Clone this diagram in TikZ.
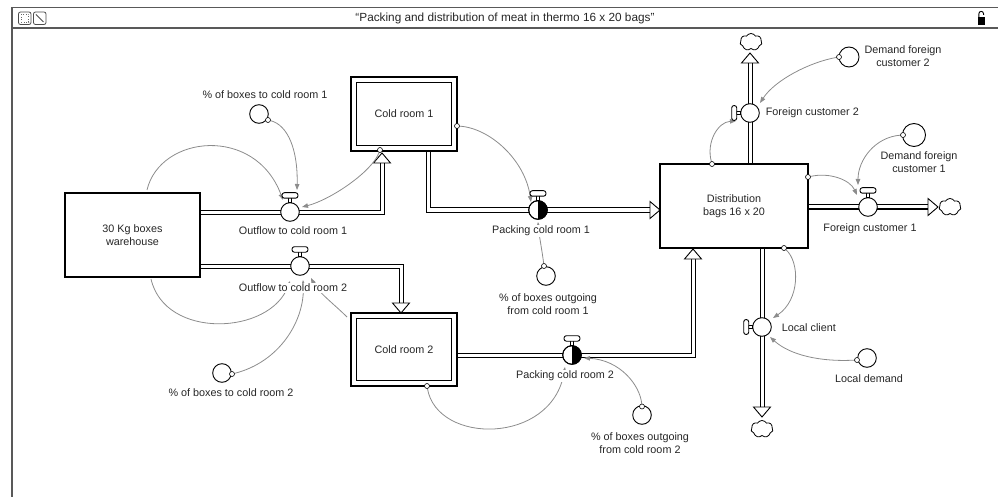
\documentclass[tikz,border=0pt]{standalone}
\usepackage{fontspec}
\setmainfont{Liberation Sans}
\usetikzlibrary{calc,shapes.symbols,arrows.meta,backgrounds}

\tikzset{
  lbl/.style={font=\fontsize{10.8}{12.8}\selectfont, text=black!85, align=center, inner sep=0.6pt, fill=white},
  stock/.style={draw, line width=1.1pt, fill=white, inner sep=0pt, outer sep=0pt,
    font=\fontsize{10.8}{12.8}\selectfont, text=black!85, align=center},
  valve/.style={circle, draw, line width=0.9pt, fill=white, minimum size=18.6pt, inner sep=0pt, outer sep=0pt},
  aux/.style={circle, draw, line width=0.9pt, fill=white, minimum size=18.6pt, inner sep=0pt, outer sep=0pt},
  port/.style={circle, draw, line width=0.6pt, fill=white, minimum size=5pt, inner sep=0pt, outer sep=0pt},
  sink/.style={cloud, cloud puffs=7, cloud puff arc=120, aspect=1.3, draw, line width=0.8pt, fill=white,
    minimum width=22pt, minimum height=17pt, inner sep=0pt},
  pipe/.style={draw=white, line width=3pt, preaction={draw=black, line width=5pt}},
  link/.style={draw=black!45, line width=0.8pt, -{Triangle[length=6pt, width=4.5pt]}},
  handle/.style={draw, line width=0.9pt, fill=white, rounded corners=2.4pt},
  stem/.style={draw, line width=0.7pt, fill=white},
  flowtip/.style={draw, line width=0.9pt, fill=white, line join=miter},
  frameline/.style={draw=black!65, line width=1.2pt},
  iconline/.style={draw=black!70, line width=0.8pt},
}

% valve handle above a horizontal flow
\newcommand\handletop[1]{%
  \draw[stem] ([xshift=-1.5pt]#1.north) rectangle ([xshift=1.5pt,yshift=5pt]#1.north);
  \draw[handle] ([xshift=-8pt,yshift=4.5pt]#1.north) rectangle ([xshift=8pt,yshift=10pt]#1.north);}
% valve handle left of a vertical flow
\newcommand\handleleft[1]{%
  \draw[stem] ([yshift=-1.5pt]#1.west) rectangle ([xshift=-4.5pt,yshift=1.5pt]#1.west);
  \draw[handle] ([xshift=-4pt,yshift=-7.5pt]#1.west) rectangle ([xshift=-9pt,yshift=7.5pt]#1.west);}
% right half of a packing valve in black
\newcommand\halfblack[1]{%
  \begin{scope}
    \clip (#1.center) circle[radius=9.3pt];
    \fill (#1.north) rectangle ([xshift=10pt]#1.south);
  \end{scope}
  \draw[line width=0.9pt] (#1.center) circle[radius=9.3pt];}
% open arrow head of a flow pipe: tip coordinate, direction
\newcommand\flowhead[2]{%
  \path[flowtip, shift={(#1)}, rotate=#2] (0,0) -- (-10,8.5) -- (-10,-8.5) -- cycle;}

\begin{document}
\begin{tikzpicture}[x=1pt, y=-1pt]
\useasboundingbox (0,0) rectangle (998,497);

% ---- window frame and title bar
\draw[frameline] (12,497) -- (12,7.5) -- (998,7.5);
\draw[frameline] (12,28) -- (998,28);
\draw[iconline, rounded corners=2pt] (18.5,12) rectangle (31,24.5);
\draw[black!60, line width=0.5pt, dotted] (21,14.5) rectangle (28.5,22);
\draw[iconline, rounded corners=2pt] (33.5,12) rectangle (46,24.5);
\draw[iconline] (36,14.5) -- (43.5,22);
\fill (977.5,17.5) rectangle (985,25.5);
\draw[line width=0.9pt] (978.8,17.5) -- (978.8,14) .. controls (978.8,10.5) and (983.6,10.5) .. (983.6,14) -- (983.6,15);
\node[font=\fontsize{11.8}{14}\selectfont, text=black!85] (title) at (505,18)
  {“Packing and distribution of meat in thermo 16 x 20 bags”};

% ---- stocks
\node[stock, minimum width=135pt, minimum height=84pt] (wh) at (132.5,235) {30 Kg boxes\\warehouse};
\node[stock, minimum width=106pt, minimum height=74pt] (cr1) at (404,114) {Cold room 1};
\draw[line width=1.1pt] ([shift={(5.5,5.5)}]cr1.north west) rectangle ([shift={(-5.5,-5.5)}]cr1.south east);
\node[stock, minimum width=106pt, minimum height=73pt] (cr2) at (404,349.5) {Cold room 2};
\draw[line width=1.1pt] ([shift={(5.5,5.5)}]cr2.north west) rectangle ([shift={(-5.5,-5.5)}]cr2.south east);
\node[stock, minimum width=148pt, minimum height=84pt] (dist) at (734,206) {Distribution\\bags 16 x 20};

% ---- flows (valves)
\node[valve] (v1) at (290,212) {};
\handletop{v1}
\node[valve] (v2) at (300,266) {};
\handletop{v2}
\node[valve] (p1) at (538,210) {};
\halfblack{p1}
\handletop{p1}
\node[valve] (p2) at (572,355) {};
\halfblack{p2}
\handletop{p2}
\node[valve] (f2) at (750,113) {};
\handleleft{f2}
\node[valve] (f1) at (868,207) {};
\handletop{f1}
\node[valve] (lc) at (762,327) {};
\handleleft{lc}

% ---- sinks
\node[sink] (sk2) at (751,42) {};
\node[sink] (sk1) at (950,207) {};
\node[sink] (skl) at (762,429) {};

% ---- auxiliaries
\node[aux] (a1) at (259,114) {};
\node[aux] (a2) at (222,373) {};
\node[aux] (ao1) at (546,276) {};
\node[aux] (ao2) at (642,415) {};
\node[aux, minimum size=20pt] (adf2) at (849,57) {};
\node[aux, minimum size=23pt] (adf1) at (914,135) {};
\node[aux] (ald) at (867,358) {};

% ---- link origins
\node[port] (pa1) at (268,120) {};
\node[port] (pa2) at (232,374) {};
\node[port] (pcr1a) at (380,150) {};
\node[port] (pcr1b) at (457,126) {};
\node[port] (pcr2) at (427,386) {};
\node[port] (po1) at (544,266) {};
\node[port] (po2) at (642,406.5) {};
\node[port] (pd1) at (712,164) {};
\node[port] (pd2) at (808,177) {};
\node[port] (pd3) at (784,248) {};
\node[port] (pdf2) at (839,57) {};
\node[port] (pdf1) at (903,135) {};
\node[port] (pld) at (857,360) {};

% ---- pipe end points
\coordinate (in1) at ($(cr1.south)+(-22,2)$);
\coordinate (in2) at ($(cr2.north)+(-3,0)$);
\coordinate (in3) at (dist.west |- p1.center);
\coordinate (in4) at ($(dist.south)+(-41,1)$);
\coordinate (c1out) at ($(cr1.south)+(24,0)$);
\coordinate (c1bend) at (c1out |- p1.center);
\coordinate (out2) at (750,53);
\coordinate (out1) at (938,207);
\coordinate (outl) at (762,417);

\begin{scope}[on background layer]
  % pipes
  \draw[pipe] (wh.east |- v1.center) -- (v1.center) -- (v1.center -| in1) -- ($(in1)+(0,10)$);
  \flowhead{in1}{90}
  \draw[pipe] (wh.east |- v2.center) -- (v2.center) -- (v2.center -| in2) -- ($(in2)+(0,-10)$);
  \flowhead{in2}{-90}
  \draw[pipe] (c1out) -- (c1bend) -- (p1.center) -- ($(in3)+(-10,0)$);
  \flowhead{in3}{0}
  \draw[pipe] (cr2.east |- p2.center) -- (p2.center) -- (p2.center -| in4) -- ($(in4)+(0,10)$);
  \flowhead{in4}{90}
  \draw[pipe] (f2.center |- dist.north) -- (f2.center) -- ($(out2)+(0,10)$);
  \flowhead{out2}{90}
  \draw[pipe] (dist.east |- f1.center) -- (f1.center) -- ($(out1)+(-10,0)$);
  \flowhead{out1}{0}
  \draw[pipe] (lc.center |- dist.south) -- (lc.center) -- ($(outl)+(0,-10)$);
  \flowhead{outl}{-90}

  % information links
  \draw[link] ($(wh.north)+(14.5,-3)$) .. controls (160,135) and (255,125) .. ($(v1)+(-7,-12)$);
  \draw[link] (pa1) .. controls (288,125) and (298,150) .. ($(v1)+(7,-22)$);
  \draw[link] (pcr1a) .. controls (372,172) and (330,200) .. ($(v1)+(12,-5)$);
  \draw[link] ($(wh.south)+(18.5,2)$) .. controls (165,340) and (270,335) .. ($(v2)+(-10,15)$);
  \draw[link] (pa2) .. controls (280,362) and (305,320) .. ($(v2)+(3,14)$);
  \draw[link] ($(cr2.north west)+(-4,4)$) .. controls (335,305) and (318,292) .. ($(v2)+(11,12)$);
  \draw[link] (pcr1b) .. controls (490,128) and (525,160) .. ($(p1)+(-7,-8)$);
  \draw[link] (po1) .. controls (542,250) and (539,235) .. ($(p1)+(0,12)$);
  \draw[link] (pcr2) .. controls (437,445) and (552,445) .. ($(p2)+(-7,12)$);
  \draw[link] (po2) .. controls (640,385) and (620,360) .. ($(p2)+(12,3)$);
  \draw[link] (pd1) .. controls (706,142) and (718,122) .. ($(f2)+(-14,8)$);
  \draw[link] (pdf2) .. controls (810,62) and (775,80) .. ($(f2)+(10,-10)$);
  \draw[link] (pd2) .. controls (830,172) and (850,180) .. ($(f1)+(-11,-12)$);
  \draw[link] (pdf1) .. controls (875,137) and (858,160) .. ($(f1)+(-10,-22)$);
  \draw[link] (pd3) .. controls (800,262) and (800,300) .. ($(lc)+(11,-9)$);
  \draw[link] (pld) .. controls (820,362) and (790,355) .. ($(lc)+(8,10)$);
\end{scope}

% ---- labels
\node[lbl] (t-a1) at (265,95) {\% of boxes to cold room 1};
\node[lbl] (t-v1) at (293,231) {Outflow to cold room 1};
\node[lbl] (t-v2) at (293,288) {Outflow to cold room 2};
\node[lbl] (t-a2) at (231,393) {\% of boxes to cold room 2};
\node[lbl] (t-p1) at (541,231) {Packing cold room 1};
\node[lbl] (t-ao1) at (548,304) {\% of boxes outgoing\\from cold room 1};
\node[lbl] (t-p2) at (565,376) {Packing cold room 2};
\node[lbl] (t-ao2) at (640,443) {\% of boxes outgoing\\from cold room 2};
\node[lbl, anchor=west] (t-f2) at (765,113) {Foreign customer 2};
\node[lbl] (t-adf2) at (903,56) {Demand foreign\\customer 2};
\node[lbl] (t-adf1) at (919,162) {Demand foreign\\customer 1};
\node[lbl] (t-f1) at (870,229) {Foreign customer 1};
\node[lbl, anchor=west] (t-lc) at (781,328) {Local client};
\node[lbl] (t-ld) at (869,379) {Local demand};
\end{tikzpicture}
\end{document}
